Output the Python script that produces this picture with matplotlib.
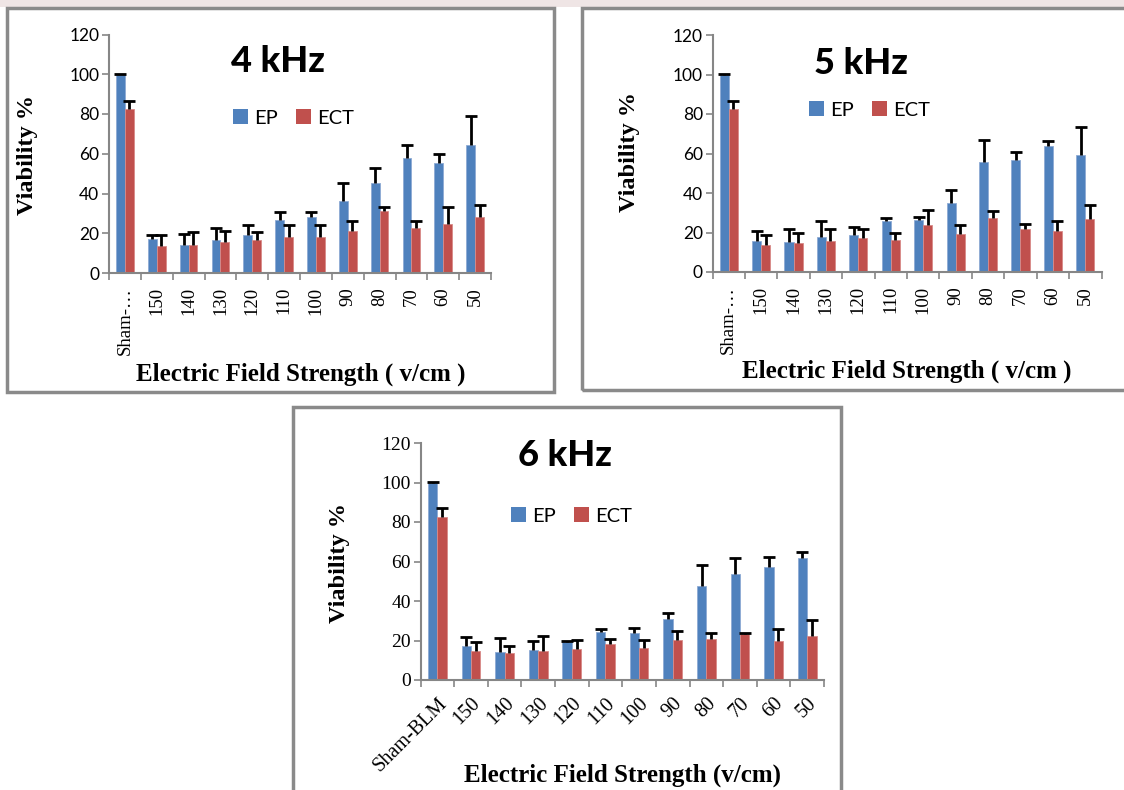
import matplotlib
matplotlib.use('Agg')
import matplotlib.pyplot as plt
from matplotlib.patches import Rectangle, Patch
import numpy as np

# field strength categories (v/cm)
fields = ['150', '140', '130', '120', '110', '100', '90', '80', '70', '60', '50']
labels_short = ['Sham-\u2026'] + fields
labels_full = ['Sham-BLM'] + fields

# 4 kHz
ep4 = [100, 17.1, 14.3, 16.8, 19.0, 26.5, 28.2, 36.0, 45.3, 57.7, 55.4, 64.6]
ep4_err = [0.3, 1.9, 5.5, 5.8, 5.3, 4.0, 2.7, 9.5, 7.7, 6.7, 4.5, 14.3]
ect4 = [82.4, 13.8, 14.3, 15.4, 16.4, 18.0, 18.3, 21.1, 31.0, 22.8, 24.8, 28.2]
ect4_err = [4.2, 5.3, 6.3, 5.7, 4.2, 6.0, 5.7, 5.2, 2.2, 3.5, 8.2, 6.0]

# 5 kHz
ep5 = [100, 15.9, 15.4, 17.8, 18.6, 25.6, 26.1, 34.7, 55.6, 56.6, 63.9, 59.3]
ep5_err = [0.3, 4.8, 6.6, 8.1, 4.1, 1.9, 1.9, 7.0, 11.4, 4.2, 2.2, 14.1]
ect5 = [82.5, 13.7, 14.9, 15.9, 17.3, 16.1, 23.7, 19.3, 27.5, 21.7, 21.0, 26.8]
ect5_err = [4.3, 4.9, 5.1, 6.0, 4.6, 3.9, 7.5, 4.4, 3.2, 2.7, 4.8, 7.3]

# 6 kHz
ep6 = [100, 17.0, 14.1, 15.2, 19.1, 24.5, 23.7, 30.7, 47.4, 53.5, 57.4, 61.8]
ep6_err = [0.3, 4.6, 7.2, 4.7, 0.5, 1.2, 2.4, 3.4, 10.7, 8.5, 4.8, 3.1]
ect6 = [82.3, 14.7, 13.5, 14.8, 15.7, 18.4, 16.4, 20.4, 20.8, 23.2, 19.9, 22.3]
ect6_err = [4.6, 4.7, 3.9, 7.3, 4.6, 2.2, 4.0, 4.5, 2.9, 0.7, 5.7, 8.2]

BLUE = '#4F81BD'
RED = '#C0504D'
GRID = '#868686'
SERIF = 'Liberation Serif'
SANS = 'Lato'

W, H = 1124, 790
fig = plt.figure(figsize=(W / 100, H / 100), dpi=100)


def px(x0, y0, x1, y1):
    # pixel box (top-left origin) -> figure rect
    return [x0 / W, (H - y1) / H, (x1 - x0) / W, (y1 - y0) / H]


# light strip at the very top
fig.patches.append(Rectangle((0, (H - 7) / H), 1, 7 / H, transform=fig.transFigure,
                             facecolor='#efe5e5', edgecolor='none', zorder=0))

# panel frames
for (x0, y0, x1, y1) in [(7, 8, 554, 392), (582, 8, 1135, 390), (293, 407, 841, 805)]:
    r = px(x0, y0, x1, y1)
    fig.patches.append(Rectangle((r[0], r[1]), r[2], r[3], transform=fig.transFigure,
                                 facecolor='none', edgecolor='#8a8a8a', lw=2.5, zorder=1))


def upper_err(ax, x, y, err):
    eb = ax.errorbar(x, y, yerr=[np.zeros(len(y)), err], fmt='none', ecolor='black',
                     elinewidth=2, capsize=4.5, capthick=2, zorder=3)
    eb[1][0].set_visible(False)  # drop the lower cap


def panel(rect, ep, ep_err, ect, ect_err, ticklabels, rot, ytick_font, title, title_xy,
          leg_xy, ylab_xy, xlab, xlab_xy):
    ax = fig.add_axes(px(*rect))
    x = np.arange(len(ep))
    w = 0.28
    ax.bar(x - w / 2, ep, w, color=BLUE, edgecolor='#8eaad4', lw=0.6, zorder=2)
    ax.bar(x + w / 2, ect, w, color=RED, edgecolor='#d88a88', lw=0.6, zorder=2)
    upper_err(ax, x - w / 2, ep, ep_err)
    upper_err(ax, x + w / 2, ect, ect_err)
    ax.set_xlim(-0.5, len(ep) - 0.5)
    ax.set_ylim(0, 120)
    ax.set_yticks(np.arange(0, 121, 20))
    for s in ['top', 'right']:
        ax.spines[s].set_visible(False)
    for s in ['left', 'bottom']:
        ax.spines[s].set_color(GRID)
        ax.spines[s].set_linewidth(1.5)
    ax.tick_params(axis='y', colors=GRID, length=5, width=1.2, labelcolor='black', pad=2)
    for t in ax.get_yticklabels():
        t.set_fontfamily(ytick_font)
        t.set_fontsize(14 if ytick_font == SERIF else 12.5)
    ax.set_xticks(x)
    if rot == 90:
        ax.set_xticklabels(ticklabels, rotation=90, fontfamily=SERIF, fontsize=13.5, va='top')
        ax.tick_params(axis='x', which='major', length=0, pad=10)
    else:
        ax.set_xticklabels(ticklabels, rotation=45, fontfamily=SERIF, fontsize=14.5,
                           ha='right', rotation_mode='anchor')
        ax.tick_params(axis='x', which='major', length=0, pad=10)
    ax.set_xticks(np.arange(-0.5, len(ep), 1), minor=True)
    ax.tick_params(axis='x', which='minor', colors=GRID, length=5, width=1.2)
    fig.text(title_xy[0] / W, 1 - title_xy[1] / H, title, fontfamily=SANS, fontweight='black',
             fontsize=26, ha='center', va='center')
    handles = [Patch(facecolor=BLUE, label='EP'), Patch(facecolor=RED, label='ECT')]
    fig.legend(handles=handles, loc='center left', bbox_to_anchor=(leg_xy[0] / W, 1 - leg_xy[1] / H),
               ncol=2, frameon=False, prop={'family': SANS, 'size': 14.5}, handlelength=0.75,
               handleheight=0.75, handletextpad=0.3, columnspacing=0.9, borderaxespad=0, borderpad=0)
    fig.text(ylab_xy[0] / W, 1 - ylab_xy[1] / H, 'Viability %', rotation=90, fontfamily=SERIF,
             fontweight='bold', fontsize=17.5, ha='center', va='center')
    fig.text(xlab_xy[0] / W, 1 - xlab_xy[1] / H, xlab, fontfamily=SERIF, fontweight='bold',
             fontsize=18, ha='center', va='center')
    return ax


panel((109, 34.5, 491, 273), ep4, ep4_err, ect4, ect4_err, labels_short, 90, SANS,
      '4 kHz', (278, 61), (233, 118), (27, 155), 'Electric Field Strength ( v/cm )', (301, 374))
panel((712.5, 35, 1101.5, 272), ep5, ep5_err, ect5, ect5_err, labels_short, 90, SANS,
      '5 kHz', (861, 63), (809, 110), (630, 152), 'Electric Field Strength ( v/cm )', (907, 371))
panel((420.5, 443, 824, 680), ep6, ep6_err, ect6, ect6_err, labels_full, 45, SERIF,
      '6 kHz', (565, 456), (511, 516), (340, 563), 'Electric Field Strength (v/cm)', (623, 775))

fig.savefig('out.png', dpi=100)
